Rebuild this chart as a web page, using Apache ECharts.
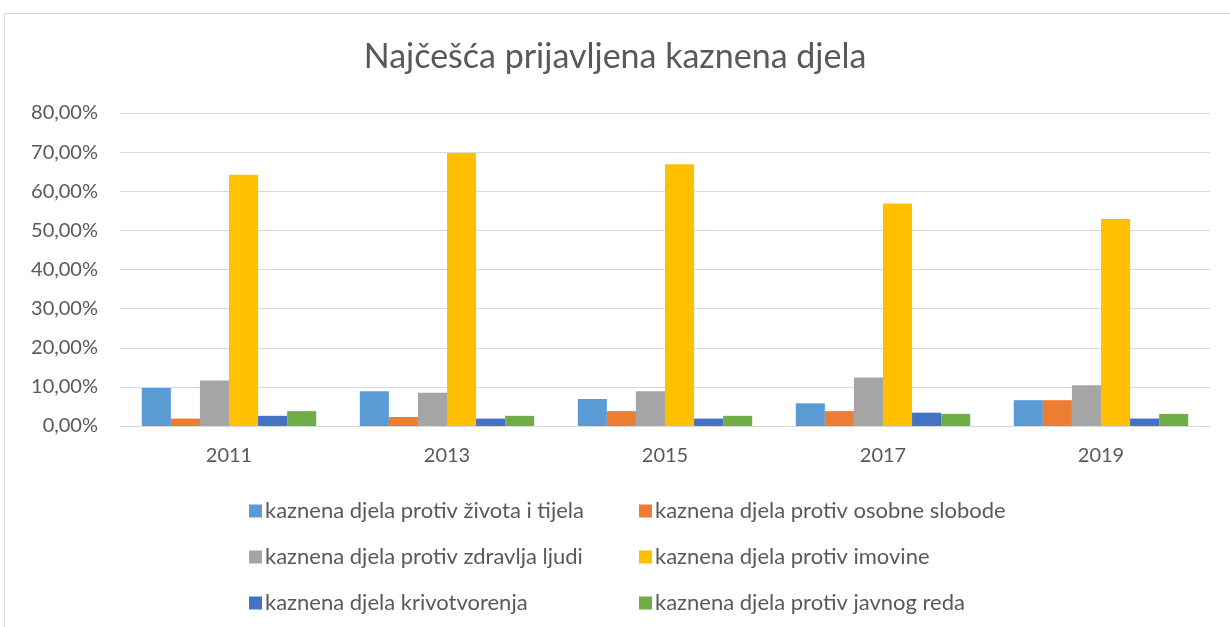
<!DOCTYPE html>
<html>
<head>
<meta charset="utf-8">
<script src="https://cdn.jsdelivr.net/npm/echarts@6/dist/echarts.min.js"></script>
<style>
  html, body { margin: 0; padding: 0; background: #fff; }
  #chart { width: 1230px; height: 627px; }
</style>
</head>
<body>
<div id="chart"></div>
<script>
// years on the x axis
const years = ['2011', '2013', '2015', '2017', '2019']
// series names
const seriesNames = [
  'kaznena djela protiv života i tijela',
  'kaznena djela protiv osobne slobode',
  'kaznena djela protiv zdravlja ljudi',
  'kaznena djela protiv imovine',
  'kaznena djela krivotvorenja',
  'kaznena djela protiv javnog reda'
]
// values in percent
const zivotITijelo = [9.7, 8.9, 6.9, 5.8, 6.6]
const osobnaSloboda = [1.9, 2.3, 3.8, 3.8, 6.6]
const zdravljeLjudi = [11.6, 8.5, 8.9, 12.4, 10.4]
const imovina = [64.2, 69.8, 66.9, 56.9, 52.9]
const krivotvorenje = [2.6, 1.9, 1.9, 3.4, 1.9]
const javniRed = [3.8, 2.6, 2.6, 3.1, 3.1]
const yTicks = { min: 0, max: 80, interval: 10 }

const colors = ['#5B9BD5', '#ED7D31', '#A5A5A5', '#FFC000', '#4472C4', '#70AD47']
const values = [zivotITijelo, osobnaSloboda, zdravljeLjudi, imovina, krivotvorenje, javniRed]
const font = 'Lato, "Open Sans", sans-serif'
const textColor = '#595959'

const chart = echarts.init(document.getElementById('chart'))

// two vertical legends, one per column
const legendBase = {
  orient: 'vertical',
  top: 495,
  height: 130,
  icon: 'rect',
  itemWidth: 13,
  itemHeight: 13,
  itemGap: 24,
  textStyle: { color: textColor, fontSize: 22, fontFamily: font, padding: [0, 0, 0, -2] }
}

chart.setOption({
  animation: false,
  title: {
    text: 'Najčešća prijavljena kaznena djela',
    left: 'center',
    top: 35,
    textStyle: { color: textColor, fontSize: 34, fontWeight: 'normal', fontFamily: font }
  },
  graphic: [{
    type: 'rect',
    shape: { x: 4.5, y: 13.5, width: 1240, height: 640 },
    style: { fill: null, stroke: '#d9d9d9', lineWidth: 1 },
    silent: true
  }],
  legend: [
    Object.assign({ left: 244, data: [seriesNames[0], seriesNames[2], seriesNames[4]] }, legendBase),
    Object.assign({ left: 634, data: [seriesNames[1], seriesNames[3], seriesNames[5]] }, legendBase)
  ],
  grid: { left: 120, right: 20, top: 113, bottom: 201 },
  xAxis: {
    type: 'category',
    data: years,
    axisLine: { lineStyle: { color: '#d9d9d9' } },
    axisTick: { show: false },
    axisLabel: { color: textColor, fontSize: 20, fontFamily: font, margin: 20 }
  },
  yAxis: {
    type: 'value',
    min: yTicks.min,
    max: yTicks.max,
    interval: yTicks.interval,
    axisLine: { show: false },
    axisTick: { show: false },
    splitLine: { lineStyle: { color: '#d9d9d9' } },
    axisLabel: {
      color: textColor,
      fontSize: 20,
      fontFamily: font,
      margin: 22,
      formatter: v => v.toFixed(2).replace('.', ',') + '%'
    }
  },
  series: seriesNames.map((name, i) => ({
    name,
    type: 'bar',
    data: values[i],
    barGap: '0%',
    barCategoryGap: '20%',
    itemStyle: { color: colors[i] }
  }))
})
</script>
</body>
</html>
